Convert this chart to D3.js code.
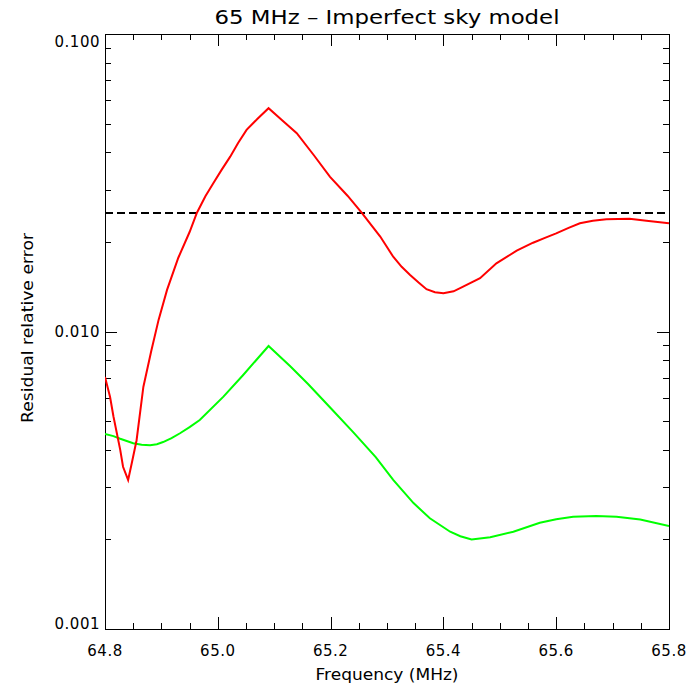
<!DOCTYPE html>
<html>
<head>
<meta charset="utf-8">
<script src="https://cdn.jsdelivr.net/npm/d3@7"></script>
<style>
  body { margin: 0; background: #fff; }
  text { font-family: "DejaVu Sans", sans-serif; fill: #000; }
</style>
</head>
<body>
<svg width="700" height="700"></svg>
<script>
// Red curve (freq MHz, residual relative error)
const redFreq = [64.800, 64.809, 64.815, 64.827, 64.832, 64.841, 64.848, 64.856, 64.868, 64.882,
  64.895, 64.910, 64.930, 64.950, 64.963, 64.978, 64.992, 65.007, 65.022, 65.036, 65.051, 65.070, 65.090, 65.115,
  65.140, 65.170, 65.199, 65.230, 65.255, 65.288, 65.311, 65.326, 65.341, 65.356, 65.370, 65.385, 65.400, 65.418,
  65.435, 65.465, 65.494, 65.530, 65.559, 65.580, 65.600, 65.622, 65.642, 65.665, 65.689, 65.730, 65.760, 65.800];
const redVal = [0.00703, 0.00602, 0.00518, 0.00400, 0.00351, 0.00317, 0.00365, 0.00431, 0.00651, 0.00860,
  0.01094, 0.01380, 0.01770, 0.02160, 0.02508, 0.02850, 0.03150, 0.03500, 0.03870, 0.04300, 0.04760, 0.05180, 0.05630, 0.05110,
  0.04640, 0.03920, 0.03310, 0.02860, 0.02508, 0.02085, 0.01784, 0.01650, 0.01549, 0.01460, 0.01387, 0.01355, 0.01344, 0.01365,
  0.01415, 0.01510, 0.01695, 0.01870, 0.01988, 0.02065, 0.02138, 0.02230, 0.02310, 0.02355, 0.02383, 0.02394, 0.02357, 0.02310];

// Green curve
const greenFreq = [64.800, 64.815, 64.827, 64.850, 64.865, 64.880, 64.892, 64.903, 64.918, 64.933,
  64.950, 64.968, 65.010, 65.045, 65.090, 65.128, 65.160, 65.200, 65.240, 65.280,
  65.311, 65.347, 65.376, 65.412, 65.430, 65.450, 65.483, 65.524, 65.571, 65.600,
  65.630, 65.671, 65.707, 65.749, 65.800];
const greenVal = [0.00452, 0.00445, 0.00436, 0.00421, 0.00416, 0.00415, 0.00418, 0.00425, 0.00438, 0.00455,
  0.00477, 0.00504, 0.00604, 0.00714, 0.00894, 0.00766, 0.00666, 0.00553, 0.00459, 0.00378,
  0.00317, 0.00265, 0.002356, 0.002123, 0.002050, 0.002001, 0.002033, 0.002123, 0.002275, 0.002340,
  0.002384, 0.002397, 0.002384, 0.002333, 0.002220];

const threshold = 0.025;
const xTicks = [64.8, 65.0, 65.2, 65.4, 65.6, 65.8];
const yTicks = [0.001, 0.01, 0.1];
const yTickLabels = ["0.001", "0.010", "0.100"];

const x0 = 105, x1 = 669, y0 = 34, y1 = 629;
const svg = d3.select("svg");
const x = d3.scaleLinear().domain([64.8, 65.8]).range([x0, x1]);
const y = d3.scaleLog().domain([0.001, 0.1]).range([y1, y0]);

// frame
svg.append("rect").attr("x", x0 + 0.5).attr("y", y0 + 0.5).attr("width", x1 - x0).attr("height", y1 - y0)
  .attr("fill", "none").attr("stroke", "#000").attr("stroke-width", 1).attr("shape-rendering", "crispEdges");

// ticks (minor every 0.05 MHz, log minors at 2..9)
const ticksG = svg.append("g").attr("stroke", "#000").attr("stroke-width", 1).attr("shape-rendering", "crispEdges");
const xMinor = d3.range(0, 21).map(i => 64.8 + i * 0.05);
xMinor.forEach((f, i) => {
  const len = i % 4 === 0 ? 12 : 6;
  const px = Math.round(x(f)) + 0.5;
  ticksG.append("line").attr("x1", px).attr("x2", px).attr("y1", y1).attr("y2", y1 - len);
  ticksG.append("line").attr("x1", px).attr("x2", px).attr("y1", y0).attr("y2", y0 + len);
});
const yMinor = [];
[0.001, 0.01].forEach(d => { for (let k = 1; k <= 10; k++) yMinor.push({ v: d * k, major: k === 1 || k === 10 }); });
yMinor.forEach(t => {
  const len = t.major ? 12 : 6;
  const py = Math.round(y(t.v)) + 0.5;
  ticksG.append("line").attr("x1", x0).attr("x2", x0 + len).attr("y1", py).attr("y2", py);
  ticksG.append("line").attr("x1", x1).attr("x2", x1 - len).attr("y1", py).attr("y2", py);
});

// tick labels
svg.selectAll("text.xt").data(xTicks).enter().append("text")
  .attr("class", "xt").attr("x", d => x(d)).attr("y", 656)
  .attr("text-anchor", "middle").style("font-size", "15px").style("letter-spacing", "0.5px")
  .text(d => d.toFixed(1));
svg.selectAll("text.yt").data(yTicks).enter().append("text")
  .attr("class", "yt").attr("x", 100)
  .attr("y", d => Math.min(Math.max(y(d) + 5.5, y0 + 13), y1))
  .attr("text-anchor", "end").style("font-size", "15px").style("letter-spacing", "0.5px")
  .text((d, i) => yTickLabels[i]);

// titles
svg.append("text").attr("x", 387).attr("y", 24).attr("text-anchor", "middle")
  .style("font-size", "20px").attr("textLength", 345).attr("lengthAdjust", "spacingAndGlyphs")
  .text("65 MHz \u2013 Imperfect sky model");
svg.append("text").attr("x", 387).attr("y", 680).attr("text-anchor", "middle")
  .style("font-size", "16px").attr("textLength", 143).attr("lengthAdjust", "spacingAndGlyphs")
  .text("Frequency (MHz)");
svg.append("text").attr("transform", "translate(33,328) rotate(-90)").attr("text-anchor", "middle")
  .style("font-size", "15px").attr("textLength", 190).attr("lengthAdjust", "spacingAndGlyphs")
  .text("Residual relative error");

// curves
svg.append("clipPath").attr("id", "plotclip").append("rect")
  .attr("x", x0).attr("y", y0).attr("width", x1 - x0).attr("height", y1 - y0);
const plot = svg.append("g").attr("clip-path", "url(#plotclip)");
const line = d3.line().x(d => x(d[0])).y(d => y(d[1]));

plot.append("line").attr("x1", x0).attr("x2", x1).attr("y1", y(threshold)).attr("y2", y(threshold))
  .attr("stroke", "#000").attr("stroke-width", 2).attr("stroke-dasharray", "8,4");
plot.append("path").datum(greenFreq.map((f, i) => [f, greenVal[i]]))
  .attr("d", line).attr("fill", "none").attr("stroke", "#00ff00").attr("stroke-width", 2);
plot.append("path").datum(redFreq.map((f, i) => [f, redVal[i]]))
  .attr("d", line).attr("fill", "none").attr("stroke", "#ff0000").attr("stroke-width", 2);
</script>
</body>
</html>
